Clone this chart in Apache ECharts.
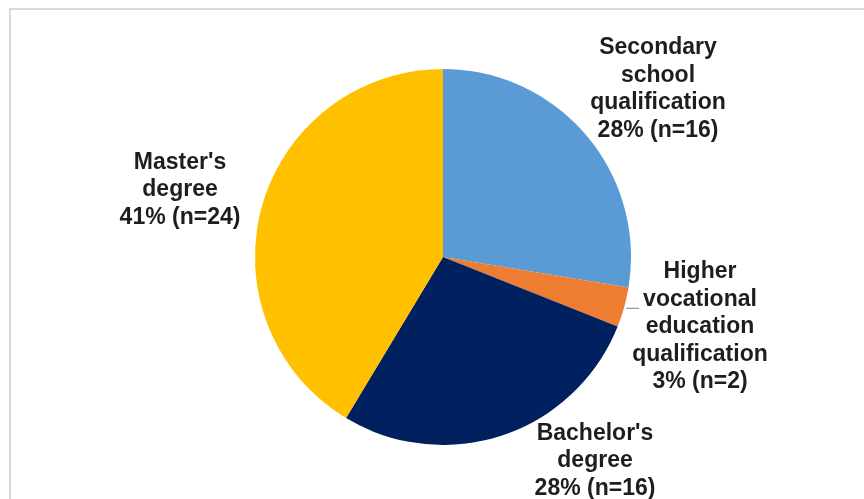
<!DOCTYPE html>
<html>
<head>
<meta charset="utf-8">
<script src="https://cdn.jsdelivr.net/npm/echarts@6/dist/echarts.min.js"></script>
<style>
html,body{margin:0;padding:0;background:#fff;}
#chart{width:864px;height:499px;}
</style>
</head>
<body>
<div id="chart"></div>
<script>
const categories = [
  'Secondary\nschool\nqualification',
  'Higher\nvocational\neducation\nqualification',
  "Bachelor's\ndegree",
  "Master's\ndegree"
];
const counts = [16, 2, 16, 24];
const colors = ['#5B9BD5', '#ED7D31', '#002060', '#FFC000'];
// label anchor positions (layout)
const labelPos = [[658, 89], [700, 327], [595, 461], [180, 190]];

const chart = echarts.init(document.getElementById('chart'), null, {renderer: 'canvas'});
chart.setOption({
  animation: false,
  backgroundColor: '#fff',
  graphic: [{
    type: 'rect',
    shape: {x: 10, y: 9, width: 900, height: 600},
    style: {fill: 'none', stroke: '#d9d9d9', lineWidth: 2},
    silent: true
  }],
  series: [{
    type: 'pie',
    center: [443, 257],
    radius: 188,
    startAngle: 90,
    clockwise: true,
    data: categories.map((c, i) => ({name: c, value: counts[i], itemStyle: {color: colors[i]},
      labelLine: {show: i === 1}})),
    label: {
      show: true,
      position: 'outside',
      formatter: p => p.name + '\n' + Math.round(p.percent) + '% (n=' + p.value + ')',
      fontFamily: 'Liberation Sans, Arial, sans-serif',
      fontWeight: 'bold',
      fontSize: 23,
      lineHeight: 27.5,
      color: '#1e1e1e',
      align: 'center'
    },
    labelLine: {
      show: true,
      length: 5,
      length2: 5,
      lineStyle: {color: '#808080', width: 1}
    },
    labelLayout: p => {
      const o = {
        x: labelPos[p.dataIndex][0],
        y: labelPos[p.dataIndex][1],
        align: 'center',
        verticalAlign: 'middle'
      };
      if (p.dataIndex === 1 && p.labelLinePoints) {
        const s = p.labelLinePoints[0];
        o.labelLinePoints = [[s[0] + 2, s[1] + 1], [s[0] + 15, s[1] + 1]];
      }
      return o;
    },
    emphasis: {disabled: true}
  }]
});
</script>
</body>
</html>
